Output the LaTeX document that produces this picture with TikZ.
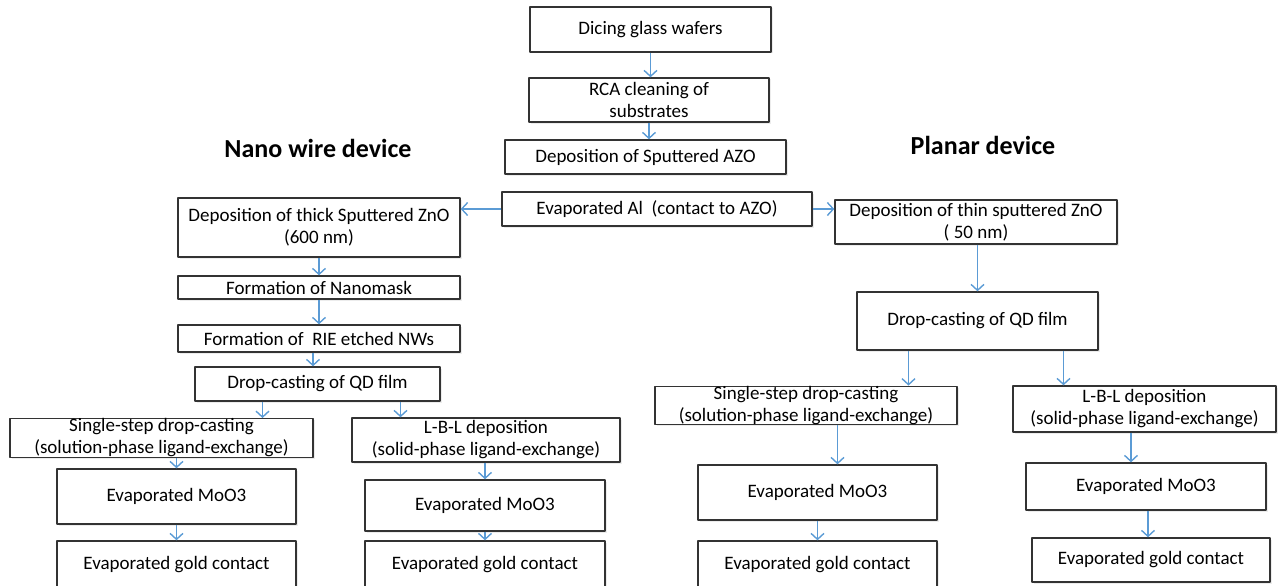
\documentclass[tikz,border=0pt]{standalone}
\usepackage{fontspec}
\setmainfont{Carlito}
\usetikzlibrary{arrows.meta,shadows}
\definecolor{flowblue}{RGB}{91,155,213}
\tikzset{
	stepbox/.style={draw=black!80,line width=1.4pt,fill=white,align=center,inner sep=0pt,
		font=\fontsize{19}{22}\selectfont,
		drop shadow={shadow xshift=1.5pt,shadow yshift=-1.5pt,opacity=0.15}},
	flow/.style={-{Straight Barb[length=6pt,width=13pt,line width=1.4pt]},draw=flowblue,line width=1.4pt},
	devtitle/.style={font=\fontsize{26}{30}\selectfont\bfseries}
}
\begin{document}
\begin{tikzpicture}[x=1pt,y=-1pt,line join=round]
	\clip (0,0) rectangle (1278,586);
	% common steps
	\node[stepbox,minimum width=241,minimum height=45] (dice) at (650.5,29.5) {Dicing glass wafers};
	\node[stepbox,minimum width=240,minimum height=44] (rca) at (649,100) {RCA cleaning of\\substrates};
	\node[stepbox,minimum width=281,minimum height=34] (azo) at (645.5,157) {Deposition of Sputtered AZO};
	\node[stepbox,minimum width=310,minimum height=34] (al) at (657,209) {Evaporated Al\ \ (contact to AZO)};
	\node[devtitle] (nanoT) at (318,148) {Nano wire device};
	\node[devtitle] (planT) at (983,145) {Planar device};
	% nano wire branch
	\node[stepbox,minimum width=282,minimum height=59] (thickL) at (319,227.5) {Deposition of thick Sputtered ZnO\\(600 nm)};
	\node[stepbox,minimum width=282,minimum height=23] (mask) at (319,287.5) {Formation of Nanomask};
	\node[stepbox,minimum width=282,minimum height=27] (rie) at (319,338.5) {Formation of\ \ RIE etched NWs};
	\node[stepbox,minimum width=245,minimum height=34] (dropL) at (317.5,384) {Drop-casting of QD film};
	\node[stepbox,minimum width=303,minimum height=38] (singleL) at (161.5,438) {Single-step drop-casting\\(solution-phase ligand-exchange)};
	\node[stepbox,minimum width=268,minimum height=44] (lblL) at (486,440) {L-B-L deposition\\(solid-phase ligand-exchange)};
	\node[stepbox,minimum width=239,minimum height=55] (mooL) at (176.5,496.5) {Evaporated MoO3};
	\node[stepbox,minimum width=240,minimum height=51] (mooLb) at (485,505.5) {Evaporated MoO3};
	\node[stepbox,minimum width=239,minimum height=48] (goldL) at (176.5,565) {Evaporated gold contact};
	\node[stepbox,minimum width=240,minimum height=48] (goldLb) at (485,565) {Evaporated gold contact};
	% planar branch
	\node[stepbox,minimum width=282,minimum height=44] (thinR) at (976,222) {Deposition of thin sputtered ZnO\\( 50 nm)};
	\node[stepbox,minimum width=241,minimum height=58] (dropR) at (977.5,321) {Drop-casting of QD film};
	\node[stepbox,minimum width=302,minimum height=35] (singleR) at (806,405.5) {Single-step drop-casting\\(solution-phase ligand-exchange)};
	\node[stepbox,minimum width=263,minimum height=46] (lblR) at (1144.5,409) {L-B-L deposition\\(solid-phase ligand-exchange)};
	\node[stepbox,minimum width=239,minimum height=55] (mooR) at (817.5,492.5) {Evaporated MoO3};
	\node[stepbox,minimum width=240,minimum height=47] (mooRb) at (1146,486.5) {Evaporated MoO3};
	\node[stepbox,minimum width=239,minimum height=48] (goldR) at (817.5,565) {Evaporated gold contact};
	\node[stepbox,minimum width=238,minimum height=44] (goldRb) at (1151,560) {Evaporated gold contact};
	% connectors
	\draw[flow] (dice.south) -- (dice.south |- rca.north);
	\draw[flow] (rca.south) -- (rca.south |- azo.north);
	\draw[flow] (al.west) -- (al.west -| thickL.east);
	\draw[flow] (al.east) -- (al.east -| thinR.west);
	\foreach \a/\b in {thickL/mask,mask/rie,mooL/goldL,mooLb/goldLb,mooR/goldR}{
		\draw[flow] (\a.south) -- (\a.south |- \b.north);
	}
	\draw[flow] ([xshift=-6]rie.south) -- ([xshift=-6]rie.south |- dropL.north);
	\draw[flow] ([xshift=-55]dropL.south) -- ([xshift=-55]dropL.south |- singleL.north);
	\draw[flow] ([xshift=83]dropL.south) -- ([xshift=83]dropL.south |- lblL.north);
	\draw[flow] (mooL.north |- singleL.south) -- (mooL.north);
	\draw[flow] (mooLb.north |- lblL.south) -- (mooLb.north);
	\draw[flow] (dropR.north |- thinR.south) -- (dropR.north);
	\draw[flow] ([xshift=-69]dropR.south) -- ([xshift=-69]dropR.south |- singleR.north);
	\draw[flow] ([xshift=86]dropR.south) -- ([xshift=86]dropR.south |- lblR.north);
	\draw[flow] ([xshift=20]mooR.north |- singleR.south) -- ([xshift=20]mooR.north);
	\draw[flow] ([xshift=-15]mooRb.north |- lblR.south) -- ([xshift=-15]mooRb.north);
	\draw[flow] ([xshift=2]mooRb.south) -- ([xshift=2]mooRb.south |- goldRb.north);
\end{tikzpicture}
\end{document}
